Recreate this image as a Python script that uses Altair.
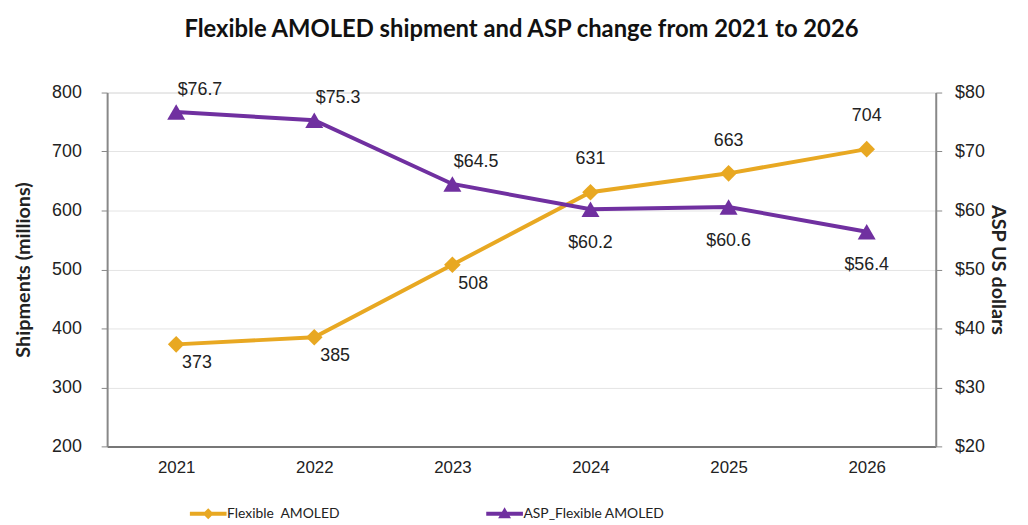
import altair as alt
import pandas as pd

years = ["2021", "2022", "2023", "2024", "2025", "2026"]
shipments = [373, 385, 508, 631, 663, 704]
asp = [76.7, 75.3, 64.5, 60.2, 60.6, 56.4]
ship_name = "Flexible \u00a0AMOLED"
asp_name = "ASP_Flexible AMOLED"
ship_above = ["2024", "2025", "2026"]
asp_above = ["2021", "2022", "2023"]

ORANGE = "#E8A822"
PURPLE = "#7030A0"
FONT = "Liberation Sans"
CAL = "Lato"

ship_df = pd.DataFrame({"year": years, "value": shipments, "series": ship_name,
                        "label": [str(v) for v in shipments]})
asp_df = pd.DataFrame({"year": years, "value": asp, "series": asp_name,
                       "label": [f"${v:.1f}" for v in asp]})

BAR = "M-3.7,-0.4L3.7,-0.4L3.7,0.4L-3.7,0.4Z"
DIAMOND = BAR + "M0,-1.1L1.1,0L0,1.1L-1.1,0Z"
TRIANGLE = BAR + "M0,-1.3L1.3,0.9L-1.3,0.9Z"

xenc = alt.X("year:N", sort=years, title=None,
             scale=alt.Scale(type="point", padding=0.5),
             axis=alt.Axis(labelAngle=0, labelFont=FONT, labelFontSize=17, labelColor="#222",
                           domainColor="#777", domainWidth=2, ticks=False, labelPadding=13))
legend = alt.Legend(orient="none", legendX=81, legendY=418, title=None,
                    direction="horizontal", columns=2,
                    labelFont=CAL, labelFontSize=14, labelColor="#222", labelLimit=400,
                    symbolSize=100, symbolOpacity=1, symbolStrokeWidth=0,
                    symbolOffset=14, labelOffset=12, columnPadding=145)
color = alt.Color("series:N",
                  scale=alt.Scale(domain=[ship_name, asp_name], range=[ORANGE, PURPLE]),
                  legend=legend)
shape = alt.Shape("series:N",
                  scale=alt.Scale(domain=[ship_name, asp_name], range=[DIAMOND, TRIANGLE]),
                  legend=legend)

y_ship = alt.Y("value:Q", title="Shipments (millions)",
               scale=alt.Scale(domain=[200, 800], nice=False),
               axis=alt.Axis(values=[200, 300, 400, 500, 600, 700, 800], labelFont=FONT,
                             labelFontSize=18, labelColor="#222", titleFont=CAL,
                             titleFontSize=20, titleFontWeight="bold", titleColor="#222",
                             domainColor="#888", domainWidth=2, tickColor="#888", tickSize=6,
                             gridColor="#e4e4e4", labelPadding=20, titlePadding=18))
y_asp = alt.Y("value:Q", title="ASP US dollars",
              scale=alt.Scale(domain=[20, 80], nice=False),
              axis=alt.Axis(orient="right", values=[20, 30, 40, 50, 60, 70, 80], format="$d",
                            labelFont=FONT, labelFontSize=18, labelColor="#222",
                            titleFont=CAL, titleFontSize=20, titleFontWeight="bold",
                            titleColor="#222", domainColor="#888", domainWidth=2,
                            tickColor="#888", tickSize=6, grid=False, labelPadding=13,
                            titlePadding=3))

ship_base = alt.Chart(ship_df).encode(x=xenc, y=y_ship)
ship_line = ship_base.mark_line(strokeWidth=4, color=ORANGE)
ship_pts = ship_base.mark_point(shape="diamond", filled=True, size=280, opacity=1,
                                color=ORANGE)
ship_legend = ship_base.mark_point(filled=True, opacity=0).encode(color=color, shape=shape)
ship_txt_above = ship_base.transform_filter(
    alt.FieldOneOfPredicate(field="year", oneOf=ship_above)).mark_text(
    font=FONT, fontSize=18, color="#222", dy=-33).encode(text="label:N")
ship_txt_below = ship_base.transform_filter(
    {"not": alt.FieldOneOfPredicate(field="year", oneOf=ship_above)}).mark_text(
    font=FONT, fontSize=18, color="#222", dy=19, dx=21).encode(text="label:N")
ship_layer = alt.layer(ship_line, ship_pts, ship_legend, ship_txt_above, ship_txt_below)

asp_base = alt.Chart(asp_df).encode(x=xenc, y=y_asp)
asp_line = asp_base.mark_line(strokeWidth=4, color=PURPLE)
asp_pts = asp_base.mark_point(shape="triangle-up", filled=True, size=330, opacity=1,
                              color=PURPLE)
asp_txt_above = asp_base.transform_filter(
    alt.FieldOneOfPredicate(field="year", oneOf=asp_above)).mark_text(
    font=FONT, fontSize=18, color="#222", dy=-22, dx=24).encode(text="label:N")
asp_txt_below = asp_base.transform_filter(
    {"not": alt.FieldOneOfPredicate(field="year", oneOf=asp_above)}).mark_text(
    font=FONT, fontSize=18, color="#222", dy=34).encode(text="label:N")
asp_layer = alt.layer(asp_line, asp_pts, asp_txt_above, asp_txt_below)

chart = alt.layer(ship_layer, asp_layer).resolve_scale(y="independent").properties(
    width=836, height=357,
    padding={"left": 5, "top": 7, "right": 12, "bottom": 0},
    title=alt.Title("Flexible AMOLED shipment and ASP change from 2021 to 2026",
                    font=CAL, fontSize=24, fontWeight="bold", color="#111",
                    offset=40),
).configure_view(stroke=None).configure(background="white")

chart.save("out.html", embed_options={"renderer": "svg", "actions": False})
